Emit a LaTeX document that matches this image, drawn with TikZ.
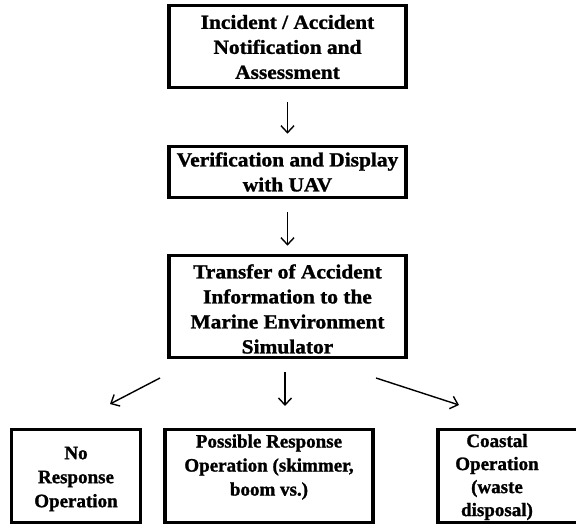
\documentclass[tikz,border=0pt]{standalone}
\usepackage{fontspec}
\setmainfont{Liberation Serif}
\newfontfamily\topfont{Liberation Serif}[BoldFeatures={FakeBold=1.3,FakeStretch=1.07}]
\newfontfamily\botfont{Liberation Serif}[BoldFeatures={FakeBold=1.3}]
\usetikzlibrary{arrows.meta}
\begin{document}
\begin{tikzpicture}[x=1pt,y=-1pt,
  box/.style={draw=black, line width=3.6pt, rectangle, inner sep=0pt},
  txt/.style={align=center, font=\topfont\bfseries\fontsize{20}{25}\selectfont, inner sep=0pt},
  btxt/.style={align=center, font=\botfont\bfseries\fontsize{19}{24}\selectfont, inner sep=0pt},
  arr/.style={line width=1.4pt, -{Straight Barb[length=7pt,width=13pt,line width=1.4pt]}}
]
\useasboundingbox (0,0) rectangle (576,524);
\clip (0,0) rectangle (576,524);
% top boxes
\node[box, minimum width=237, minimum height=82] (b1) at (287.5,46.5) {};
\node[txt] (t1) at (287.5,47) {Incident / Accident\\Notification and\\Assessment};
\node[box, minimum width=237, minimum height=51] (b2) at (287.5,172) {};
\node[txt] (t2) at (287.5,172) {Verification and Display\\with UAV};
\node[box, minimum width=237, minimum height=102] (b3) at (287.5,306.5) {};
\node[txt] (t3) at (287.5,309) {Transfer of Accident\\Information to the\\Marine Environment\\Simulator};
% bottom boxes
\node[box, minimum width=129, minimum height=93] (b4) at (76,476) {};
\node[btxt] (t4) at (76,479) {No\\Response\\Operation};
\node[box, minimum width=208, minimum height=93] (b5) at (269,476) {};
\node[btxt] (t5) at (269,467) {Possible Response\\Operation (skimmer,\\boom vs.)};
\node[box, minimum width=160, minimum height=93] (b6) at (518,476) {};
\node[btxt, font=\botfont\bfseries\fontsize{19}{23}\selectfont] (t6) at (497,477) {Coastal\\Operation\\(waste\\disposal)};
% arrows
\draw[arr, shorten <=13pt, shorten >=11pt] (b1.south) -- (b2.north);
\draw[arr, shorten <=13pt, shorten >=8pt] (b2.south) -- (b3.north);
\coordinate (l0) at (160,378);
\coordinate (l1) at (110,404);
\coordinate (m0) at (285,372);
\coordinate (m1) at (285,406);
\coordinate (r0) at (376,378);
\coordinate (r1) at (459,405);
\draw[arr] (l0) -- (l1);
\draw[arr] (m0) -- (m1);
\draw[arr] (r0) -- (r1);
\end{tikzpicture}
\end{document}
